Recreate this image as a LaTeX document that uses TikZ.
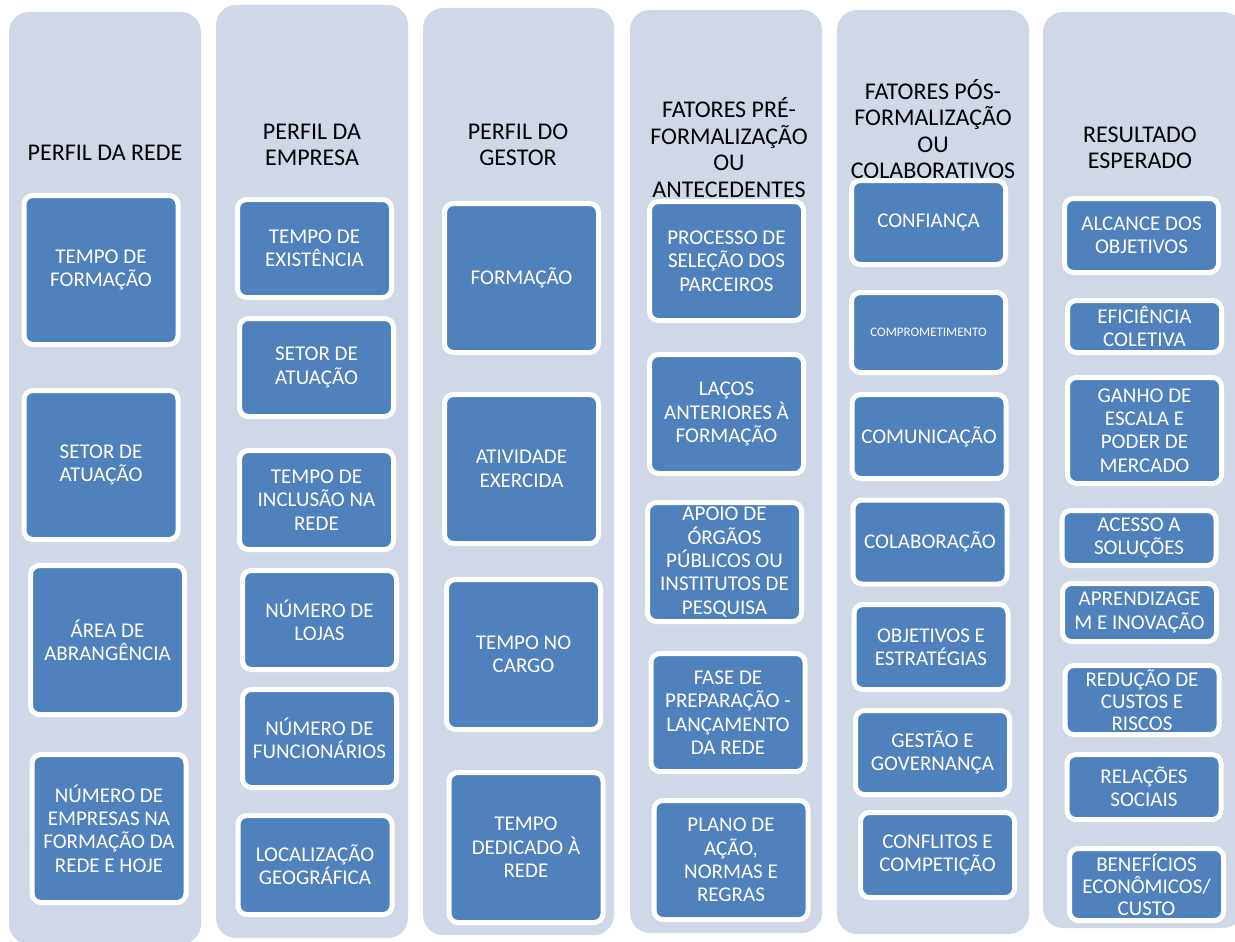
\documentclass[tikz,border=0pt]{standalone}
\usepackage{fontspec}
\setmainfont{Carlito}
\usetikzlibrary{positioning}
\definecolor{panelgray}{HTML}{D0D8E8}
\definecolor{boxblue}{HTML}{4F81BD}
\begin{document}
\begin{tikzpicture}[x=1pt, y=-1pt]

		% Define basic styles
		\tikzset{
			panel/.style={
				rectangle, fill=panelgray, rounded corners=20pt,
				minimum width=192pt, inner sep=0pt
			},
			heading/.style={
				align=center, text=black, inner sep=0pt,
				font=\fontsize{24}{26.5}\selectfont
			},
			item/.style={
				rectangle, draw=white, line width=5pt, rounded corners=9pt,
				fill=boxblue, text=white, align=center, inner sep=0pt,
				minimum width=154pt,
				font=\fontsize{21}{23.4}\selectfont
			}
		}

		\useasboundingbox (0,0) rectangle (1235,942);

		% Panels
		\node[panel, minimum height=932pt] (prede) at (105,478) {};
		\node[panel, minimum height=933pt] (pempresa) at (312,471.5) {};
		\node[panel, minimum width=191pt, minimum height=927pt] (pgestor) at (518.5,471.5) {};
		\node[panel, minimum height=923pt] (ppre) at (726,471.5) {};
		\node[panel, minimum height=924pt] (ppos) at (933,472) {};
		\node[panel, minimum width=200pt, minimum height=916pt] (presult) at (1143,470) {};

		% Headings
		\node[heading] (hrede) at (105,153) {PERFIL DA REDE};
		\node[heading] (hempresa) at (312,145) {PERFIL DA\\EMPRESA};
		\node[heading] (hgestor) at (518,145) {PERFIL DO\\GESTOR};
		\node[heading] (hpre) at (729,147.5) {FATORES PRÉ-\\FORMALIZAÇÃO\\OU\\ANTECEDENTES};
		\node[heading] (hpos) at (933,129) {FATORES PÓS-\\FORMALIZAÇÃO\\OU\\COLABORATIVOS};
		\node[heading] (hresult) at (1140,148) {RESULTADO\\ESPERADO};

		% Perfil da rede
		\node[item, minimum height=149pt] (tformacao) at (101,270) {TEMPO DE\\FORMAÇÃO};
		\node[item, minimum height=149pt] (setorrede) at (101,465) {SETOR DE\\ATUAÇÃO};
		\node[item, minimum height=149pt] (area) at (107.5,640) {ÁREA DE\\ABRANGÊNCIA};
		\node[item, minimum height=148pt] (nempresas) at (109,828.5) {NÚMERO DE\\EMPRESAS NA\\FORMAÇÃO DA\\REDE E HOJE};

		% Perfil da empresa
		\node[item, minimum height=98pt] (existencia) at (314.5,248.5) {TEMPO DE\\EXISTÊNCIA};
		\node[item, minimum height=98pt] (setorempresa) at (316.5,367.5) {SETOR DE\\ATUAÇÃO};
		\node[item, minimum height=99pt] (inclusao) at (316.5,500) {TEMPO DE\\INCLUSÃO NA\\REDE};
		\node[item, minimum height=99pt] (lojas) at (319.5,620) {NÚMERO DE\\LOJAS};
		\node[item, minimum height=98pt] (funcionarios) at (319.5,738.5) {NÚMERO DE\\FUNCIONÁRIOS};
		\node[item, minimum height=99pt] (localizacao) at (315,865) {LOCALIZAÇÃO\\GEOGRÁFICA};

		% Perfil do gestor
		\node[item, minimum height=149pt] (formacao) at (521.5,278) {FORMAÇÃO};
		\node[item, minimum height=149pt] (atividade) at (521.5,469) {ATIVIDADE\\EXERCIDA};
		\node[item, minimum height=150pt] (cargo) at (523.5,654.5) {TEMPO NO\\CARGO};
		\node[item, minimum height=150pt] (dedicado) at (526,847.5) {TEMPO\\DEDICADO À\\REDE};

		% Fatores pre-formalizacao
		\node[item, minimum height=119pt] (selecao) at (726.5,261) {PROCESSO DE\\SELEÇÃO DOS\\PARCEIROS};
		\node[item, minimum height=119pt] (lacos) at (726.5,414) {LAÇOS\\ANTERIORES À\\FORMAÇÃO};
		\node[item, minimum height=119pt] (apoio) at (724.5,562) {APOIO DE\\ÓRGÃOS\\PÚBLICOS OU\\INSTITUTOS DE\\PESQUISA};
		\node[item, minimum height=118pt] (fase) at (728,712.5) {FASE DE\\PREPARAÇÃO -\\LANÇAMENTO\\DA REDE};
		\node[item, minimum height=119pt] (plano) at (731,860) {PLANO DE\\AÇÃO,\\NORMAS E\\REGRAS};

		% Fatores pos-formalizacao
		\node[item, minimum height=84pt] (confianca) at (928.5,222.5) {CONFIANÇA};
		\node[item, minimum height=80pt, font=\fontsize{13}{15}\selectfont] (comprometimento) at (928.5,332.5) {COMPROMETIMENTO};
		\node[item, minimum height=84pt] (comunicacao) at (929,436.5) {COMUNICAÇÃO};
		\node[item, minimum height=84pt] (colaboracao) at (930,542) {COLABORAÇÃO};
		\node[item, minimum height=85pt] (objetivos) at (931,647) {OBJETIVOS E\\ESTRATÉGIAS};
		\node[item, minimum height=84pt] (gestao) at (932.5,752.5) {GESTÃO E\\GOVERNANÇA};
		\node[item, minimum height=85pt] (conflitos) at (937.5,855) {CONFLITOS E\\COMPETIÇÃO};

		% Resultado esperado
		\node[item, minimum height=74pt] (alcance) at (1141.5,235.5) {ALCANCE DOS\\OBJETIVOS};
		\node[item, minimum height=52pt] (eficiencia) at (1144.5,326.5) {EFICIÊNCIA\\COLETIVA};
		\node[item, minimum height=106pt] (ganho) at (1144.5,430.5) {GANHO DE\\ESCALA E\\PODER DE\\MERCADO};
		\node[item, minimum height=55pt] (acesso) at (1139,538) {ACESSO A\\SOLUÇÕES};
		\node[item, minimum height=58pt] (aprendizagem) at (1139.5,612.5) {APRENDIZAGE\\M E INOVAÇÃO};
		\node[item, minimum height=69pt, font=\fontsize{21}{22}\selectfont] (reducao) at (1142,700) {REDUÇÃO DE\\CUSTOS E\\RISCOS};
		\node[item, minimum height=65pt] (relacoes) at (1144,787) {RELAÇÕES\\SOCIAIS};
		\node[item, minimum height=72pt, font=\fontsize{21}{22}\selectfont] (beneficios) at (1146.5,884.5) {BENEFÍCIOS\\ECONÔMICOS/\\CUSTO};

	\end{tikzpicture}
\end{document}
